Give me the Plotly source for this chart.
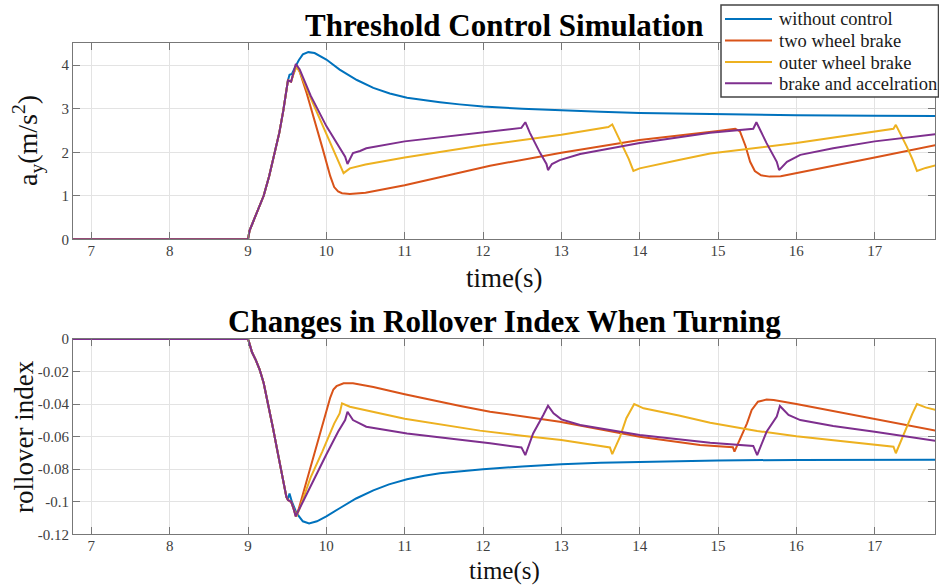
import plotly.graph_objects as go

# ---- lateral acceleration a_y (m/s^2) -------------------------------------
# common response before control kicks in
t_rise = [6.7, 9.0, 9.02, 9.07, 9.13, 9.2, 9.27, 9.33, 9.4, 9.45, 9.49, 9.51]
ay_rise = [0, 0, 0.2, 0.42, 0.68, 1.0, 1.45, 1.92, 2.45, 2.95, 3.45, 3.65]

t_ay_none = [9.53, 9.56, 9.6, 9.65, 9.7, 9.77, 9.85, 10.0, 10.17, 10.39, 10.6,
             10.81, 11.03, 11.25, 11.45, 11.7, 12.0, 12.5, 13.0, 13.5, 14.0,
             15.0, 16.0, 17.0, 17.8]
ay_none = [3.78, 3.8, 3.95, 4.12, 4.25, 4.3, 4.28, 4.13, 3.9, 3.66, 3.48,
           3.35, 3.25, 3.19, 3.15, 3.1, 3.05, 3.0, 2.96, 2.93, 2.9,
           2.87, 2.85, 2.84, 2.83]

t_ay_two = [9.55, 9.58, 9.62, 9.66, 9.75, 9.85, 9.95, 10.05, 10.1, 10.15, 10.2,
            10.3, 10.5, 11.0, 11.7, 12.09, 13.0, 14.0, 15.0, 15.22, 15.28,
            15.35, 15.41, 15.47, 15.55, 15.66, 15.8, 16.0, 17.0, 17.8]
ay_two = [3.62, 3.8, 3.98, 3.85, 3.35, 2.75, 2.1, 1.45, 1.2, 1.1, 1.06,
          1.04, 1.07, 1.24, 1.52, 1.69, 1.99, 2.28, 2.49, 2.54, 2.48,
          2.15, 1.78, 1.57, 1.47, 1.44, 1.45, 1.52, 1.88, 2.17]

t_ay_outer = [9.55, 9.58, 9.62, 9.66, 9.75, 10.22, 10.3, 10.5, 11.0, 12.0, 13.0,
              13.6, 13.65, 13.7, 13.79, 13.86, 13.92, 14.0, 14.5, 14.9, 16.0,
              17.0, 17.24, 17.27, 17.33, 17.41, 17.48, 17.54, 17.65, 17.8]
ay_outer = [3.62, 3.8, 3.97, 3.85, 3.45, 1.52, 1.63, 1.72, 1.88, 2.16, 2.4,
            2.58, 2.64, 2.45, 2.13, 1.85, 1.57, 1.63, 1.82, 1.97, 2.21,
            2.47, 2.54, 2.63, 2.42, 2.13, 1.85, 1.57, 1.64, 1.71]

t_ay_accel = [9.55, 9.58, 9.61, 9.66, 9.8, 10.0, 10.24, 10.27, 10.34, 10.43,
              10.51, 11.0, 11.96, 12.49, 12.54, 12.6, 12.73, 12.81, 12.83,
              12.88, 12.98, 13.24, 14.0, 14.9, 15.45, 15.49, 15.62, 15.75,
              15.78, 15.88, 16.05, 16.47, 17.0, 17.8]
ay_accel = [3.62, 3.85, 4.03, 3.9, 3.3, 2.6, 1.9, 1.73, 1.98, 2.03,
            2.09, 2.25, 2.44, 2.56, 2.69, 2.44, 1.98, 1.73, 1.59,
            1.73, 1.82, 1.96, 2.21, 2.45, 2.54, 2.69, 2.21, 1.78,
            1.59, 1.78, 1.94, 2.09, 2.25, 2.42]

# ---- rollover index --------------------------------------------------------
t_fall = [6.7, 9.0, 9.02, 9.05, 9.1, 9.15, 9.2, 9.26, 9.32, 9.38, 9.45, 9.49]
ri_fall = [0, 0, -0.003, -0.008, -0.013, -0.019, -0.027, -0.04, -0.055,
           -0.07, -0.086, -0.097]

t_ri_none = [9.51, 9.53, 9.56, 9.62, 9.7, 9.78, 9.88, 10.0, 10.17, 10.38, 10.6,
             10.8, 11.03, 11.25, 11.45, 11.7, 12.0, 12.5, 13.0, 13.5, 14.0,
             15.0, 16.0, 17.0, 17.8]
ri_none = [-0.098, -0.095, -0.1, -0.107, -0.112, -0.1133, -0.112, -0.109,
           -0.104, -0.098, -0.093, -0.0893, -0.0862, -0.084, -0.0825, -0.0812,
           -0.08, -0.0783, -0.0769, -0.0760, -0.0754,
           -0.0746, -0.0743, -0.0742, -0.0742]

t_ri_two = [9.51, 9.55, 9.58, 9.61, 9.65, 9.75, 9.85, 9.95, 10.05, 10.09, 10.13,
            10.22, 10.34, 10.6, 11.0, 11.71, 12.09, 12.98, 14.0, 14.77, 15.19,
            15.21, 15.28, 15.37, 15.43, 15.51, 15.62, 15.71, 16.0, 17.0,
            17.75, 17.8]
ri_two = [-0.099, -0.1, -0.104, -0.109, -0.104, -0.087, -0.069, -0.052,
          -0.036, -0.031, -0.029, -0.0272, -0.0272, -0.0295, -0.034, -0.0412,
          -0.0447, -0.0508, -0.06, -0.0651, -0.0665, -0.0692, -0.062, -0.0518,
          -0.0436, -0.0385, -0.0372, -0.0375, -0.04, -0.049, -0.0561, -0.0565]

t_ri_outer = [9.51, 9.55, 9.58, 9.62, 9.66, 9.8, 9.95, 10.1, 10.17, 10.2, 10.3,
              10.6, 11.0, 11.96, 12.5, 13.0, 13.62, 13.65, 13.75, 13.83, 13.93,
              14.05, 14.5, 14.9, 15.5, 16.0, 16.5, 17.0, 17.24, 17.27, 17.34,
              17.41, 17.48, 17.54, 17.65, 17.8]
ri_outer = [-0.099, -0.1, -0.104, -0.109, -0.104, -0.085, -0.069, -0.052,
            -0.0457, -0.0395, -0.0416, -0.0447, -0.049, -0.0563, -0.0595,
            -0.062, -0.0666, -0.0707, -0.06, -0.0487, -0.04, -0.0426, -0.047,
            -0.0514, -0.0565, -0.0598, -0.0625, -0.065, -0.0662, -0.0702,
            -0.062, -0.0539, -0.046, -0.04, -0.042, -0.0438]

t_ri_accel = [9.51, 9.55, 9.58, 9.61, 9.66, 9.8, 10.0, 10.15, 10.24, 10.27,
              10.34, 10.51, 11.03, 12.09, 12.49, 12.54, 12.64, 12.77, 12.83,
              12.9, 13.0, 13.24, 14.0, 14.9, 15.45, 15.5, 15.62, 15.75, 15.79,
              15.9, 16.05, 16.47, 17.0, 17.8]
ri_accel = [-0.099, -0.1, -0.104, -0.109, -0.104, -0.09, -0.071, -0.057,
            -0.0498, -0.0447, -0.0498, -0.0539, -0.058, -0.0641, -0.0666,
            -0.0713, -0.058, -0.0467, -0.041, -0.0457, -0.0494, -0.0528,
            -0.059, -0.0637, -0.0657, -0.0713, -0.057, -0.0477, -0.0412,
            -0.0467, -0.0498, -0.0535, -0.057, -0.0628]

series_names = ["without control", "two wheel brake", "outer wheel brake",
                "brake and accelration"]
colors = ["#0072BD", "#D95319", "#EDB120", "#7E2F8E"]

x_ticks = list(range(7, 18))
ay_ticks = [0, 1, 2, 3, 4]
ri_ticks = [0, -0.02, -0.04, -0.06, -0.08, -0.1, -0.12]
ri_tick_text = ["0", "-0.02", "-0.04", "-0.06", "-0.08", "-0.1", "-0.12"]

SERIF = "Liberation Serif"
W, H = 939, 587


def px_x(p):
    return p / W


def px_y(p):
    return 1 - p / H


top_curves = [(t_ay_none, ay_none), (t_ay_two, ay_two),
              (t_ay_outer, ay_outer), (t_ay_accel, ay_accel)]
bot_curves = [(t_ri_none, ri_none), (t_ri_two, ri_two),
              (t_ri_outer, ri_outer), (t_ri_accel, ri_accel)]

fig = go.Figure()
for i, (t, v) in enumerate(top_curves):
    fig.add_trace(go.Scatter(
        x=t_rise + t, y=ay_rise + v, mode="lines", name=series_names[i],
        showlegend=False,
        line=dict(color=colors[i], width=2), xaxis="x", yaxis="y"))
for i, (t, v) in enumerate(bot_curves):
    fig.add_trace(go.Scatter(
        x=t_fall + t, y=ri_fall + v, mode="lines", name=series_names[i],
        showlegend=False,
        line=dict(color=colors[i], width=2), xaxis="x2", yaxis="y2"))

axis_common = dict(
    showline=True, linecolor="#777777", linewidth=1, mirror="ticks",
    ticks="inside", ticklen=7, tickcolor="#777777", tickwidth=1,
    showgrid=True, gridcolor="#e3e3e3", gridwidth=1, zeroline=False,
    automargin=False,
    tickfont=dict(family=SERIF, size=15, color="#404040"),
)

x_dom = [px_x(73), px_x(935)]
x_rng = [6.766, 17.77]

fig.update_layout(
    template="none",
    width=W, height=H,
    margin=dict(l=0, r=0, t=0, b=0, pad=0, autoexpand=False),
    paper_bgcolor="white", plot_bgcolor="white",
    showlegend=False,
    font=dict(family=SERIF),
    xaxis=dict(domain=x_dom, anchor="y", range=x_rng, tickvals=x_ticks,
               ticklabelstandoff=-2, **axis_common),
    yaxis=dict(domain=[px_y(239.3), px_y(43)], anchor="x", range=[0, 4.51],
               tickvals=ay_ticks, **axis_common),
    xaxis2=dict(domain=x_dom, anchor="y2", range=x_rng, tickvals=x_ticks,
                ticklabelstandoff=-2, **axis_common),
    yaxis2=dict(domain=[px_y(534.3), px_y(339)], anchor="x2",
                range=[-0.12, 0], tickvals=ri_ticks, ticktext=ri_tick_text,
                **axis_common),
)

# legend box in the upper right corner of the figure
leg_left, leg_right, leg_top, leg_bottom = 721, 938.5, 5, 97
leg_rows = [19, 40.5, 62, 83.3]
shapes = [dict(type="rect", xref="paper", yref="paper",
               x0=px_x(leg_left), x1=px_x(leg_right),
               y0=px_y(leg_bottom), y1=px_y(leg_top),
               fillcolor="white", line=dict(color="#444444", width=1.5),
               layer="above")]
annotations = []
for name, color, row in zip(series_names, colors, leg_rows):
    shapes.append(dict(type="line", xref="paper", yref="paper",
                       x0=px_x(725), x1=px_x(772), y0=px_y(row), y1=px_y(row),
                       line=dict(color=color, width=2), layer="above"))
    annotations.append(dict(text=name, x=px_x(777), y=px_y(row + 0.5),
                            xanchor="left", yanchor="middle",
                            font=dict(family=SERIF, size=18.5,
                                      color="#1a1a1a")))

title_font = dict(family=SERIF, size=31, color="black")
label_font = dict(family=SERIF, size=27, color="#111111")
for a in [
    dict(text="<b>Threshold Control Simulation</b>", x=px_x(504),
         y=px_y(25.5), font=title_font),
    dict(text="<b>Changes in Rollover Index When Turning</b>", x=px_x(504),
         y=px_y(321.2), font=title_font),
    dict(text="time(s)", x=px_x(504), y=px_y(278), font=label_font),
    dict(text="time(s)", x=px_x(504), y=px_y(571),
         font=dict(family=SERIF, size=25, color="#111111")),
    dict(text="a<sub>y</sub>(m/s<sup>2</sup>)", x=px_x(28), y=px_y(141),
         textangle=-90, font=dict(family=SERIF, size=28, color="#111111")),
    dict(text="rollover index", x=px_x(24), y=px_y(437),
         textangle=-90, font=label_font),
]:
    a.update(xanchor="center", yanchor="middle")
    annotations.append(a)

for a in annotations:
    a.update(xref="paper", yref="paper", showarrow=False)
fig.update_layout(shapes=shapes, annotations=annotations)

fig.write_html("out.html")
